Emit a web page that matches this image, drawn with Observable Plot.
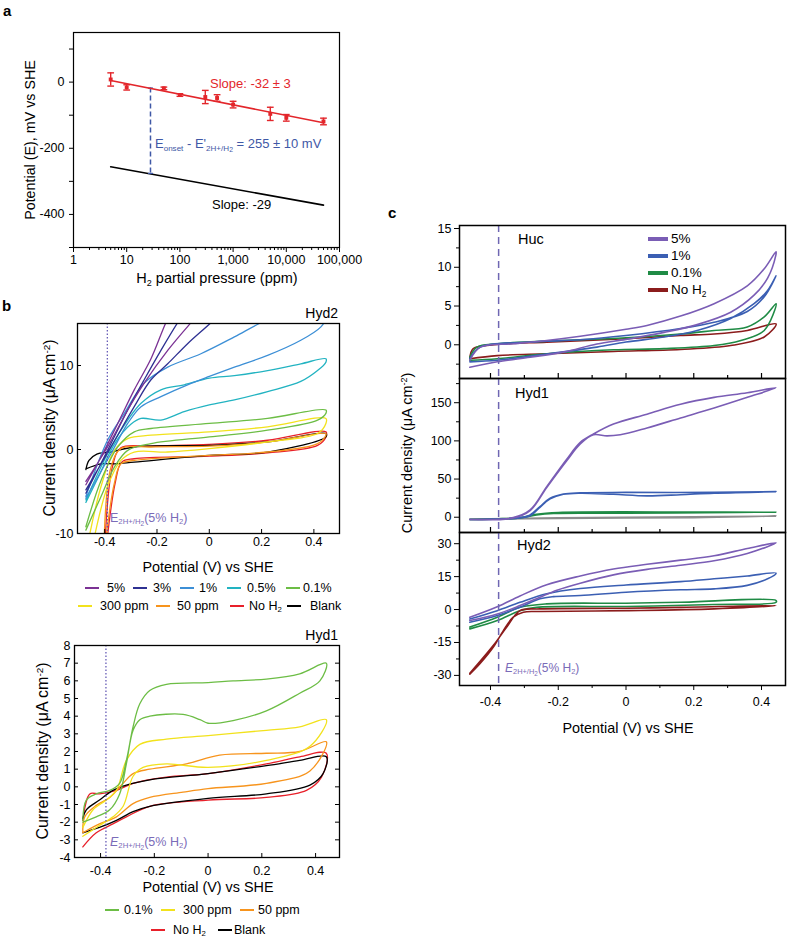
<!DOCTYPE html>
<html>
<head>
<meta charset="utf-8">
<script src="https://cdn.jsdelivr.net/npm/d3@7"></script>
<script src="https://cdn.jsdelivr.net/npm/@observablehq/plot@0.6"></script>
<style>
  html, body { margin: 0; padding: 0; background: #fff; }
  body { font-family: "Liberation Sans", Arial, Helvetica, sans-serif; }
  #root { position: relative; width: 792px; height: 939px; overflow: hidden; background: #fff; }
  .abs { position: absolute; white-space: nowrap; line-height: 1; color: #000; }
  sub, sup { font-size: 0.62em; line-height: 0; position: relative; vertical-align: baseline; }
  sub { top: 0.32em; }
  sup { top: -0.55em; }
  sub sub { font-size: 0.85em; top: 0.2em; }
  .leg { position: absolute; }
</style>
</head>
<body>
<div id="root"></div>
<script>
// ================= DATA =================
// ---- Panel a: onset potential vs H2 partial pressure ----
const aPressure = [5, 10, 50, 100, 300, 500, 1000, 5000, 10000, 50000];   // ppm
const aPotential = [8, -16, -19, -39, -45, -48, -68, -96, -108, -119];    // mV vs SHE
const aError = [20, 8, 4, 4, 20, 10, 10, 20, 10, 10];                     // mV
const aFitP = [5, 50000];
const aFitRed = [5, -123];
const aFitBlack = [-256, -372];
const aOnsetP = [28];
const aOnsetTop = [-18];
const aOnsetBottom = [-276];
const aXTicks = [1, 10, 100, 1000, 10000, 100000];
const aYTicks = [0, -200, -400];
const aYMinor = [100, -100, -300, -500];

// ---- Panel b, Hyd2: [potential (V), current density (µA cm-2)] ----
const b2_5 = [[-0.472,-4.2],[-0.414,-0.9],[-0.35,3.1],[-0.287,7.1],[-0.223,10.8],[-0.166,15.1],[-0.12,18],[0.1,24],[0.44,30],[0.44,28],[0.1,21],[-0.07,15.1],[-0.159,11.8],[-0.249,7.9],[-0.312,4.7],[-0.389,0.3],[-0.472,-3.8]];
const b2_3 = [[-0.472,-5.2],[-0.389,-0.1],[-0.312,4.7],[-0.249,8.3],[-0.185,11.8],[-0.121,15.1],[-0.08,17],[0.2,23],[0.44,27],[0.44,25],[0.2,19],[0.05,16.5],[0.006,15.1],[-0.083,12.6],[-0.159,10.2],[-0.223,8.3],[-0.287,5.1],[-0.376,0.3],[-0.472,-4.8]];
const b2_1 = [[-0.472,-5.8],[-0.376,-0.5],[-0.312,3.1],[-0.261,5.1],[-0.185,6.3],[-0.083,7.7],[0,8.7],[0.096,9.8],[0.223,11.2],[0.35,13.0],[0.427,14.6],[0.446,15.6],[0.446,17.5],[0.3,16.4],[0.198,15.1],[0.096,13.4],[-0.032,11.4],[-0.159,9.8],[-0.249,7.9],[-0.325,4.3],[-0.389,1.1],[-0.472,-5.6]];
const b2_05 = [[-0.472,-6.3],[-0.42,-3.0],[-0.36,0.8],[-0.3,3.0],[-0.261,3.7],[-0.185,3.5],[-0.096,4.5],[0,5.3],[0.096,5.9],[0.223,6.9],[0.35,8.1],[0.414,9.4],[0.446,10.4],[0.446,10.8],[0.35,10.2],[0.223,9.4],[0.096,8.8],[0,8.5],[-0.096,7.7],[-0.185,7.1],[-0.261,5.5],[-0.312,3.5],[-0.376,0.3],[-0.472,-6.0]];
const b2_01 = [[-0.472,-9.6],[-0.414,-5.6],[-0.363,-2.1],[-0.312,-0.1],[-0.223,0.7],[0,1.5],[0.223,2.3],[0.414,3.5],[0.446,4.3],[0.446,4.7],[0.223,3.7],[0,3.1],[-0.223,2.5],[-0.287,2.1],[-0.35,0.3],[-0.414,-3.7],[-0.472,-9.2]];
const b2_300 = [[-0.44,-10.5],[-0.389,-4.4],[-0.338,-1.3],[-0.287,-0.3],[-0.159,-0.3],[0,0.1],[0.223,0.9],[0.414,1.9],[0.446,3.1],[0.446,3.7],[0.223,2.7],[0,2.1],[-0.223,1.7],[-0.312,1.3],[-0.363,-0.1],[-0.414,-4.4],[-0.46,-10.5]];
const b2_50 = [[-0.395,-10.5],[-0.363,-4.0],[-0.338,-1.7],[-0.287,-1.3],[0,-0.7],[0.223,-0.3],[0.414,0.7],[0.446,1.7],[0.446,1.9],[0.223,0.9],[0,0.4],[-0.223,0.3],[-0.338,0.1],[-0.376,-2.1],[-0.402,-10.5]];
const b2_no = [[-0.39,-10.5],[-0.36,-4.0],[-0.335,-1.5],[-0.287,-1.1],[0,-0.8],[0.223,-0.4],[0.414,0.5],[0.446,1.5],[0.446,2.1],[0.223,1.1],[0,0.6],[-0.223,0.4],[-0.338,0.2],[-0.37,-2.0],[-0.398,-10.5]];
const b2_blank = [[-0.472,-2.3],[-0.414,-1.7],[-0.363,-1.7],[-0.287,-1.5],[0,-0.7],[0.223,-0.3],[0.446,1.5],[0.446,1.9],[0.223,0.9],[0,0.5],[-0.287,0.3],[-0.376,-0.3],[-0.43,-0.55],[-0.46,-1.3],[-0.472,-2.4]];
const b2Labels = ["5%", "3%", "1%", "0.5%", "0.1%", "300 ppm", "50 ppm", "No H<sub>2</sub>", "Blank"];
const b2Colors = ["#7b3294", "#2e3192", "#3c8fd6", "#22b3c1", "#6cbd45", "#f2e21c", "#f7941d", "#e8202a", "#000000"];
const b2E = [-0.39];
const b2XTicks = [-0.4, -0.2, 0, 0.2, 0.4];
const b2YTicks = [-10, 0, 10];

// ---- Panel b, Hyd1 ----
const b1_01 = [[-0.466,-2.0],[-0.416,-1.7],[-0.366,-1.3],[-0.329,-0.4],[-0.304,1.3],[-0.279,3.2],[-0.254,3.8],[-0.217,4.0],[-0.093,4.1],[-0.03,3.8],[0,3.6],[0.093,3.75],[0.217,4.3],[0.341,5.3],[0.416,6.0],[0.44,7.0],[0.341,6.4],[0.217,6.1],[0.093,6.0],[0,5.9],[-0.155,5.8],[-0.217,5.45],[-0.254,4.7],[-0.279,3.4],[-0.304,1.5],[-0.329,0.2],[-0.366,-0.2],[-0.416,-0.4],[-0.453,-0.75],[-0.466,-1.9]];
const b1_300 = [[-0.466,-2.8],[-0.416,-2.3],[-0.354,-1.7],[-0.316,-1.1],[-0.279,0.6],[-0.242,1.1],[-0.155,1.3],[0,1.1],[0.217,1.5],[0.379,2.3],[0.44,3.8],[0.341,3.4],[0.217,3.2],[0,2.9],[-0.155,2.7],[-0.254,2.4],[-0.304,1.5],[-0.341,-0.2],[-0.379,-0.75],[-0.428,-1.3],[-0.466,-2.3]];
const b1_50 = [[-0.466,-2.6],[-0.404,-2.1],[-0.341,-1.7],[-0.279,-0.95],[-0.217,-0.6],[-0.093,-0.3],[0,-0.1],[0.217,0.2],[0.379,0.9],[0.44,2.55],[0.341,2.0],[0.217,1.9],[0.043,1.8],[-0.081,1.3],[-0.217,1.0],[-0.279,0.75],[-0.316,0.2],[-0.366,-0.6],[-0.416,-1.05],[-0.459,-1.7],[-0.466,-2.6]];
const b1_no = [[-0.466,-3.4],[-0.416,-2.6],[-0.354,-2.1],[-0.304,-1.7],[-0.217,-1.1],[0,-0.75],[0.217,-0.6],[0.366,-0.2],[0.422,0.55],[0.44,1.9],[0.341,1.7],[0.217,1.3],[0,0.75],[-0.155,0.55],[-0.279,0.2],[-0.341,-0.2],[-0.404,-0.4],[-0.44,-0.4],[-0.466,-1.9]];
const b1_blank = [[-0.466,-2.6],[-0.404,-2.3],[-0.341,-1.9],[-0.279,-1.4],[-0.217,-1.1],[0,-0.65],[0.217,-0.4],[0.379,0.1],[0.428,0.75],[0.44,1.7],[0.341,1.5],[0.217,1.2],[0,0.75],[-0.217,0.4],[-0.304,0.1],[-0.354,-0.2],[-0.404,-0.75],[-0.453,-1.3],[-0.466,-1.8]];
const b1Labels = ["0.1%", "300 ppm", "50 ppm", "No H<sub>2</sub>", "Blank"];
const b1Colors = ["#6cbd45", "#f2e21c", "#f7941d", "#e8202a", "#000000"];
const b1E = [-0.38];
const b1XTicks = [-0.4, -0.2, 0, 0.2, 0.4];
const b1YTicks = [-4, -3, -2, -1, 0, 1, 2, 3, 4, 5, 6, 7, 8];

// ---- Panel c, Huc ----
const cHuc_5 = [[-0.461,-2.9],[-0.38,-2.2],[-0.283,-1.6],[-0.185,-0.95],[-0.086,0.1],[0,0.7],[0.112,1.6],[0.21,2.6],[0.309,4.2],[0.378,6.4],[0.418,8.6],[0.442,11.5],[0.443,12.0],[0.408,9.8],[0.358,7.6],[0.26,5.3],[0.161,3.7],[0.062,2.5],[0,2.0],[-0.135,1.1],[-0.234,0.56],[-0.333,0.13],[-0.43,-0.3],[-0.461,-2.0]];
const cHuc_1 = [[-0.461,-2.2],[-0.38,-2.0],[-0.234,-1.2],[-0.086,-0.3],[0,0.35],[0.112,1.0],[0.21,1.85],[0.309,3.4],[0.378,5.3],[0.418,7.0],[0.443,8.9],[0.408,6.2],[0.358,4.3],[0.26,2.9],[0.161,2.1],[0,1.2],[-0.135,0.65],[-0.283,0.35],[-0.43,-0.3],[-0.461,-1.8]];
const cHuc_01 = [[-0.461,-2.0],[-0.38,-1.8],[-0.234,-1.16],[-0.037,-0.65],[0.112,-0.5],[0.26,-0.1],[0.339,0.56],[0.408,1.85],[0.443,5.3],[0.408,3.6],[0.358,2.3],[0.26,1.85],[0.161,1.4],[0,0.9],[-0.234,0.47],[-0.38,0.13],[-0.44,-0.3],[-0.461,-1.6]];
const cHuc_no = [[-0.461,-1.8],[-0.38,-1.4],[-0.234,-1.16],[-0.037,-0.86],[0.161,-0.6],[0.309,-0.1],[0.408,1.0],[0.443,2.7],[0.358,1.85],[0.26,1.4],[0.161,1.2],[0,0.78],[-0.234,0.34],[-0.38,0.04],[-0.451,-0.5],[-0.461,-1.8]];

// ---- Panel c, Hyd1 ----
const cH1_5 = [[-0.461,-3],[-0.333,-1],[-0.283,8.7],[-0.234,39],[-0.175,74],[-0.135,96],[-0.096,108],[-0.056,106.5],[-0.017,108],[0.062,117],[0.161,130],[0.26,143],[0.358,157],[0.443,169.6],[0.358,163],[0.26,157],[0.161,148],[0.062,135],[-0.037,122],[-0.096,109],[-0.135,98],[-0.175,76],[-0.234,40],[-0.283,9.5],[-0.333,-0.5],[-0.461,-3]];
const cH1_1 = [[-0.461,-3],[-0.313,-1],[-0.283,2],[-0.254,13],[-0.224,24],[-0.185,30],[-0.135,31.5],[-0.037,30],[0.062,28],[0.161,29.5],[0.26,31.5],[0.443,33.5],[0.26,32.5],[0,32.5],[-0.135,32],[-0.185,30.5],[-0.224,25],[-0.254,14],[-0.283,3],[-0.313,-0.5],[-0.461,-3]];
const cH1_01 = [[-0.461,-3],[-0.313,-1],[-0.264,3],[-0.214,5],[0,5.3],[0.443,6.5],[0.2,6.8],[-0.2,6.2],[-0.264,4],[-0.313,-0.5],[-0.461,-3]];
const cH1_no = [[-0.461,-3],[-0.2,-1.5],[0.2,-0.5],[0.443,1.5],[0.2,0.5],[-0.2,-0.8],[-0.461,-2.5]];

// ---- Panel c, Hyd2 ----
const cH2_5 = [[-0.461,-5],[-0.38,-2],[-0.313,1.8],[-0.254,5.6],[-0.204,8.8],[-0.135,12],[-0.037,15.8],[0.062,18.3],[0.161,20.2],[0.26,22.2],[0.358,25.5],[0.443,30.4],[0.358,27.8],[0.26,24.5],[0.161,22.5],[0.062,20.6],[-0.037,18.5],[-0.135,15.3],[-0.234,11.3],[-0.313,6.2],[-0.38,1.3],[-0.461,-3.5]];
const cH2_1 = [[-0.461,-5.8],[-0.38,-2.7],[-0.313,1],[-0.254,4.9],[-0.214,5.9],[-0.135,6.4],[0,7.9],[0.161,9.0],[0.26,9.4],[0.358,11],[0.418,14],[0.443,16.6],[0.358,15.3],[0.26,14],[0.161,12.7],[0,11.2],[-0.135,9.6],[-0.234,7.2],[-0.313,3.3],[-0.38,-0.5],[-0.461,-4.3]];
const cH2_01 = [[-0.461,-8.8],[-0.38,-5],[-0.313,-0.5],[-0.264,1],[0,1.4],[0.26,2.3],[0.443,3.3],[0.443,4.1],[0.161,3.3],[0,2.9],[-0.234,2.6],[-0.313,1],[-0.38,-3.5],[-0.461,-8]];
const cH2_no = [[-0.461,-29.4],[-0.432,-24.8],[-0.392,-17.2],[-0.362,-9.6],[-0.333,-3.5],[-0.303,-1.2],[-0.254,-0.9],[0,-0.5],[0.26,0.3],[0.443,1.8],[0.161,1],[0,0.6],[-0.254,0.3],[-0.313,-0.5],[-0.352,-8],[-0.392,-16.4],[-0.461,-29]];

const cLabels = ["5%", "1%", "0.1%", "No H<sub>2</sub>"];
const cColors = ["#7a5db5", "#3b5fb3", "#1f8b45", "#8b1c1c"];
const cGrey = "#8c8c8c";
const cE = [-0.376];
const cXTicks = [-0.4, -0.2, 0, 0.2, 0.4];
const cXMinor = [-0.3, -0.1, 0.1, 0.3];
const cHucTicks = [0, 5, 10, 15], cHucMinor = [-2.5, 2.5, 7.5, 12.5];
const cH1Ticks = [0, 50, 100, 150], cH1Minor = [25, 75, 125, 175];
const cH2Ticks = [-30, -15, 0, 15, 30], cH2Minor = [-22.5, -7.5, 7.5, 22.5];

// ================= HELPERS =================
const FONT = '"Liberation Sans", Arial, Helvetica, sans-serif';
const root = document.getElementById("root");
const baseStyle = {background: "transparent", fontFamily: FONT, fontSize: "12.5px", color: "#000", overflow: "visible"};
const RED = "#e3262b", BLUE = "#3f58a6", ELAB = "#7a6bb8";

function place(svg, left, top) {
  svg.style.position = "absolute";
  svg.style.left = left + "px";
  svg.style.top = top + "px";
  root.appendChild(svg);
}
function label(html, x, y, o = {}) {
  const d = document.createElement("div");
  d.className = "abs";
  d.innerHTML = html;
  d.style.left = x + "px";
  d.style.top = y + "px";
  d.style.fontSize = (o.size || 12.5) + "px";
  if (o.color) d.style.color = o.color;
  if (o.bold) d.style.fontWeight = "bold";
  const ax = o.anchor === "middle" ? "-50%" : o.anchor === "end" ? "-100%" : "0";
  d.style.transform = `translate(${ax},-50%)` + (o.rotate ? " rotate(-90deg)" : "");
  root.appendChild(d);
}
function legendItem(html, color, x1, len, tx, y, lw = 2, size = 12.5) {
  const l = document.createElement("div");
  l.className = "leg";
  l.style.left = x1 + "px";
  l.style.top = Math.round(y - lw / 2) + "px";
  l.style.width = len + "px";
  l.style.height = lw + "px";
  l.style.background = color;
  root.appendChild(l);
  label(html, tx, y, {size});
}
const hcap = {draw(ctx, size) { const w = Math.sqrt(size); ctx.moveTo(-w, 0); ctx.lineTo(w, 0); }};
const pX = d => d[0], pY = d => d[1];

// ================= PANEL a =================
{
  const pts = aPressure.map((p, i) => ({p, e: aPotential[i], err: aError[i]}));
  const fitR = aFitP.map((p, i) => ({p, e: aFitRed[i]}));
  const fitB = aFitP.map((p, i) => ({p, e: aFitBlack[i]}));
  const onset = aOnsetP.map((p, i) => ({p, top: aOnsetTop[i], bottom: aOnsetBottom[i]}));
  const minor = [];
  for (let k = 0; k < 5; k++) for (let m = 2; m <= 9; m++) minor.push(m * Math.pow(10, k));
  const svg = Plot.plot({
    width: 400, height: 290,
    marginLeft: 73, marginRight: 61, marginTop: 32, marginBottom: 43,
    style: baseStyle,
    x: {type: "log", domain: [1, 100000], label: null},
    y: {domain: [-500, 150], label: null},
    marks: [
      Plot.axisX(aXTicks, {tickSize: 5, tickPadding: 3, tickFormat: d3.format(","), label: null, fontSize: 12.5}),
      Plot.axisX(minor, {tickSize: 3, tickFormat: () => "", label: null}),
      Plot.axisY(aYTicks, {tickSize: 4, tickPadding: 5, tickFormat: d => String(d), label: null, fontSize: 12.5}),
      Plot.axisY(aYMinor, {tickSize: 4, tickFormat: () => "", label: null}),
      Plot.line(fitB, {x: "p", y: "e", stroke: "#000", strokeWidth: 1.6}),
      Plot.ruleX(onset, {x: "p", y1: "top", y2: "bottom", stroke: BLUE, strokeWidth: 1.5, strokeDasharray: "5,3"}),
      Plot.dot(onset, {x: "p", y: "top", symbol: hcap, r: 1.4, stroke: BLUE, strokeWidth: 1.3}),
      Plot.dot(onset, {x: "p", y: "bottom", symbol: hcap, r: 1.4, stroke: BLUE, strokeWidth: 1.3}),
      Plot.line(fitR, {x: "p", y: "e", stroke: RED, strokeWidth: 1.6}),
      Plot.ruleX(pts, {x: "p", y1: d => d.e - d.err, y2: d => d.e + d.err, stroke: RED, strokeWidth: 1.4}),
      Plot.dot(pts, {x: "p", y: d => d.e + d.err, symbol: hcap, r: 1.9, stroke: RED, strokeWidth: 1.4}),
      Plot.dot(pts, {x: "p", y: d => d.e - d.err, symbol: hcap, r: 1.9, stroke: RED, strokeWidth: 1.4}),
      Plot.dot(pts, {x: "p", y: "e", symbol: "square", r: 2.2, fill: RED, stroke: null}),
      Plot.frame({stroke: "#000", strokeWidth: 1.2})
    ]
  });
  place(svg, 0, 0);
  label("a", 3, 10, {size: 15, bold: true});
  label("Potential (E), mV vs SHE", 30, 140, {rotate: true, anchor: "middle", size: 14.3});
  label("H<sub>2</sub> partial pressure (ppm)", 217, 278, {anchor: "middle", size: 14.5});
  label("Slope: -32 ± 3", 210, 83, {color: RED, size: 13});
  label("E<sub>onset</sub> - E'<sub>2H+/H<sub>2</sub></sub> = 255 ± 10 mV", 155, 143, {color: BLUE, size: 13});
  label("Slope: -29", 212, 204, {size: 13});
}

// ================= PANEL b (Hyd2) =================
{
  const W = 400, H = 280, mL = 77, mR = 61, mT = 23, mB = 47;
  const fw = W - mL - mR, fh = H - mT - mB;
  const data = [b2_5, b2_3, b2_1, b2_05, b2_01, b2_300, b2_50, b2_no, b2_blank];
  const order = [7, 8, 6, 5, 4, 3, 2, 1, 0];
  const svg = Plot.plot({
    width: W, height: H, marginLeft: mL, marginRight: mR, marginTop: mT, marginBottom: mB,
    style: baseStyle,
    x: {domain: [-0.504, 0.498], label: null},
    y: {domain: [-10, 15], label: null},
    marks: [
      ...order.map(i => Plot.line(data[i], {x: pX, y: pY, stroke: b2Colors[i], strokeWidth: 1.3, curve: "catmull-rom", clip: true})),
      Plot.ruleX(b2E, {stroke: "#5b4fb0", strokeWidth: 1.2, strokeDasharray: "1.5,2"}),
      Plot.axisX(b2XTicks, {tickSize: 0, tickPadding: 4, tickFormat: d => String(d), label: null}),
      Plot.tickX(b2XTicks, {x: d => d, insetTop: fh - 4, stroke: "#000"}),
      Plot.axisY(b2YTicks, {tickSize: 0, tickPadding: 4, tickFormat: d => String(d), label: null}),
      Plot.tickY(b2YTicks, {y: d => d, insetRight: fw - 4, stroke: "#000"}),
      Plot.axisY([0], {anchor: "right", tickSize: 4, tickFormat: () => "", label: null}),
      Plot.frame({stroke: "#000", strokeWidth: 1.3})
    ]
  });
  place(svg, 0, 300);
  label("b", 2, 305, {size: 15, bold: true});
  label("Hyd2", 338, 313, {anchor: "end", size: 14});
  label("Current density (μA cm<sup>-2</sup>)", 50, 428, {rotate: true, anchor: "middle", size: 16});
  label("Potential (V) vs SHE", 208, 567, {anchor: "middle", size: 14.4});
  label("E<sub>2H+/H<sub>2</sub></sub>(5% H<sub>2</sub>)", 110, 518, {color: ELAB, size: 12.5});
  // legend
  const row1 = [[85, 107], [133, 153], [180, 199], [227, 247], [286, 303]];
  const row2 = [[78, 100], [156, 177], [230, 249], [287, 310]];
  row1.forEach(([x1, tx], i) => legendItem(b2Labels[i], b2Colors[i], x1, 14, tx, 588));
  row2.forEach(([x1, tx], i) => legendItem(b2Labels[i + 5], b2Colors[i + 5], x1, 14, tx, 606));
}

// ================= PANEL b (Hyd1) =================
{
  const W = 400, H = 280, mL = 74, mR = 61, mT = 25, mB = 43;
  const fw = W - mL - mR, fh = H - mT - mB;
  const data = [b1_01, b1_300, b1_50, b1_no, b1_blank];
  const order = [3, 4, 2, 1, 0];
  const svg = Plot.plot({
    width: W, height: H, marginLeft: mL, marginRight: mR, marginTop: mT, marginBottom: mB,
    style: baseStyle,
    x: {domain: [-0.497, 0.489], label: null},
    y: {domain: [-4, 8], label: null},
    marks: [
      ...order.map(i => Plot.line(data[i], {x: pX, y: pY, stroke: b1Colors[i], strokeWidth: 1.3, curve: "catmull-rom", clip: true})),
      Plot.ruleX(b1E, {stroke: "#5b4fb0", strokeWidth: 1.2, strokeDasharray: "1.5,2"}),
      Plot.axisX(b1XTicks, {tickSize: 0, tickPadding: 9, tickFormat: d => String(d), label: null}),
      Plot.tickX(b1XTicks, {x: d => d, insetTop: fh - 4, stroke: "#000"}),
      Plot.axisY(b1YTicks, {tickSize: 0, tickPadding: 4, tickFormat: d => String(d), label: null}),
      Plot.tickY(b1YTicks, {y: d => d, insetRight: fw - 4, stroke: "#000"}),
      Plot.tickY(b1YTicks, {y: d => d, insetLeft: fw - 4, stroke: "#000"}),
      Plot.frame({stroke: "#000", strokeWidth: 1.3})
    ]
  });
  place(svg, 0, 620);
  label("Hyd1", 338, 635, {anchor: "end", size: 14});
  label("Current density (μA cm<sup>-2</sup>)", 43, 751, {rotate: true, anchor: "middle", size: 16});
  label("Potential (V) vs SHE", 208, 887, {anchor: "middle", size: 14.4});
  label("<i>E</i><sub>2H+/H<sub>2</sub></sub>(5% H<sub>2</sub>)", 110, 842, {color: ELAB, size: 12.5});
  const row1 = [[105, 124], [161, 183], [240, 258]];
  const row2 = [[151, 173], [218, 234]];
  row1.forEach(([x1, tx], i) => legendItem(b1Labels[i], b1Colors[i], x1, 14, tx, 910));
  row2.forEach(([x1, tx], i) => legendItem(b1Labels[i + 3], b1Colors[i + 3], x1, 14, tx, 930));
}

// ================= PANEL c =================
function cPanel({top, height, mT, mB, yDomain, majors, minors, series, colors, bottomAxis}) {
  const W = 412, mL = 79, mR = 7;
  const fw = W - mL - mR, fh = height - mT - mB;
  const marks = [
    ...series.map((s, i) => Plot.line(s, {x: pX, y: pY, stroke: colors[i], strokeWidth: 1.6, curve: "catmull-rom", clip: true})),
    Plot.ruleX(cE, {stroke: "#6f67b3", strokeWidth: 1.5, strokeDasharray: "7,5"}),
    Plot.axisY(majors, {tickSize: 5, tickPadding: 3, tickFormat: d => String(d), label: null}),
    Plot.axisY(minors, {tickSize: 3, tickFormat: () => "", label: null})
  ];
  if (bottomAxis) {
    marks.push(
      Plot.axisX(cXTicks, {tickSize: 5, tickPadding: 7, tickFormat: d => String(d), label: null}),
      Plot.axisX(cXMinor, {tickSize: 3, tickFormat: () => "", label: null})
    );
  } else {
    marks.push(
      Plot.tickX(cXTicks, {x: d => d, insetTop: fh - 5, stroke: "#000", strokeWidth: 1.2}),
      Plot.tickX(cXMinor, {x: d => d, insetTop: fh - 3, stroke: "#000", strokeWidth: 1.2})
    );
  }
  marks.push(Plot.frame({stroke: "#000", strokeWidth: 1.5}));
  const xOpts = {domain: [-0.4915, 0.4708], label: null};
  if (!bottomAxis) xOpts.axis = null;
  const svg = Plot.plot({
    width: W, height, marginLeft: mL, marginRight: mR, marginTop: mT, marginBottom: mB,
    style: baseStyle,
    x: xOpts,
    y: {domain: yDomain, label: null},
    marks
  });
  place(svg, 380, top);
}
cPanel({top: 215, height: 170, mT: 10, mB: 7, yDomain: [-4.35, 15.39], majors: cHucTicks, minors: cHucMinor,
  series: [cHuc_no, cHuc_01, cHuc_1, cHuc_5], colors: [cColors[3], cColors[2], cColors[1], cColors[0]], bottomAxis: false});
cPanel({top: 371, height: 168, mT: 7, mB: 7, yDomain: [-20, 181.7], majors: cH1Ticks, minors: cH1Minor,
  series: [cH1_no, cH1_01, cH1_1, cH1_5], colors: [cGrey, cColors[2], cColors[1], cColors[0]], bottomAxis: false});
cPanel({top: 525, height: 215, mT: 7, mB: 55, yDomain: [-34.6, 35.1], majors: cH2Ticks, minors: cH2Minor,
  series: [cH2_01, cH2_1, cH2_5, cH2_no], colors: [cColors[2], cColors[1], cColors[0], cColors[3]], bottomAxis: true});

label("c", 388, 212, {size: 15, bold: true});
label("Huc", 518, 239, {size: 14.5});
label("Hyd1", 515, 393, {size: 14.5});
label("Hyd2", 517, 545, {size: 14.5});
label("Current density (μA cm<sup>-2</sup>)", 407, 453, {rotate: true, anchor: "middle", size: 14.5});
label("Potential (V) vs SHE", 628, 728, {anchor: "middle", size: 14.4});
label("<i>E</i><sub>2H+/H<sub>2</sub></sub>(5% H<sub>2</sub>)", 505, 668, {color: ELAB, size: 12});
[239, 256, 273, 290].forEach((y, i) => legendItem(cLabels[i], cColors[i], 648, 20, 671, y, 3.5, 13.5));
</script>
</body>
</html>
